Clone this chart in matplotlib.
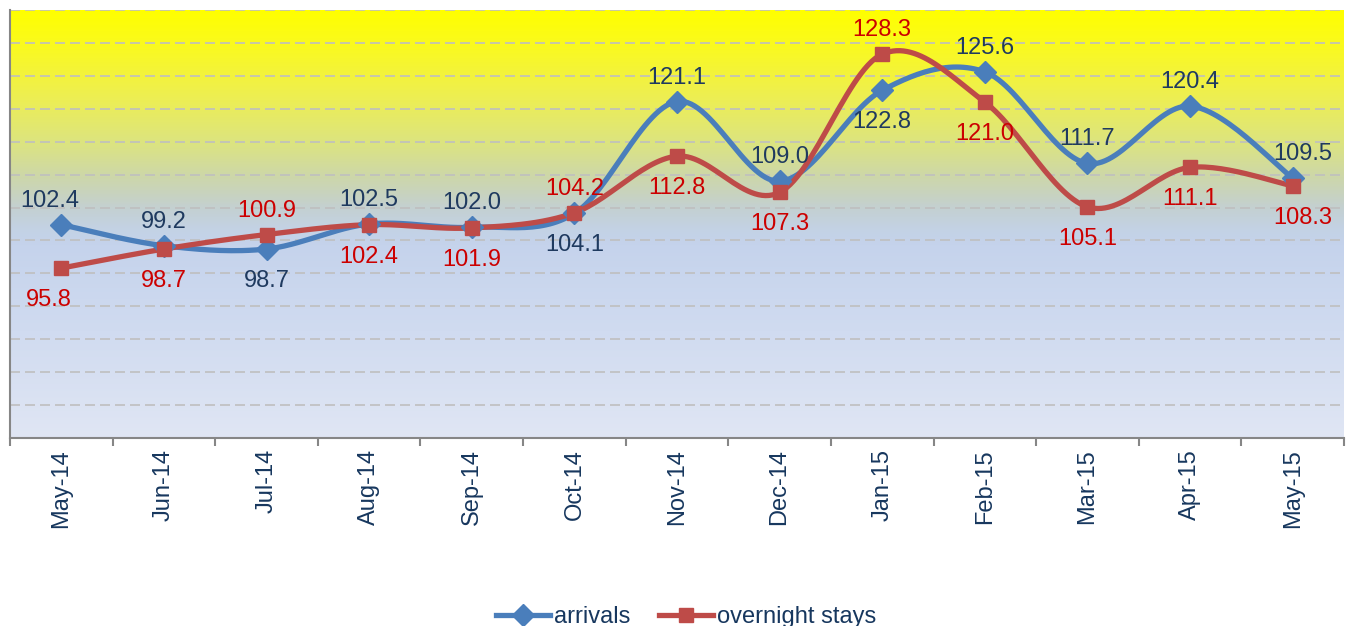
import numpy as np
from matplotlib import pyplot as plt
from matplotlib.colors import LinearSegmentedColormap

months = ['May-14', 'Jun-14', 'Jul-14', 'Aug-14', 'Sep-14', 'Oct-14', 'Nov-14',
          'Dec-14', 'Jan-15', 'Feb-15', 'Mar-15', 'Apr-15', 'May-15']
arrivals = [102.4, 99.2, 98.7, 102.5, 102.0, 104.1, 121.1, 109.0, 122.8, 125.6, 111.7, 120.4, 109.5]
overnight = [95.8, 98.7, 100.9, 102.4, 101.9, 104.2, 112.8, 107.3, 128.3, 121.0, 105.1, 111.1, 108.3]

# label placement: 1 = above the marker, -1 = below
arr_side = [1, 1, -1, 1, 1, -1, 1, 1, -1, 1, 1, 1, 1]
ovn_side = [-1, -1, 1, -1, -1, 1, -1, -1, 1, -1, -1, -1, -1]

plt.rcParams['font.family'] = ['Liberation Sans', 'DejaVu Sans']


def smooth(x, y, n=30):
    # excel-like smoothed line: cubic bezier, control points from neighbours / 6
    p = np.column_stack([x, y]).astype(float)
    ext = np.vstack([p[0], p, p[-1]])
    t = np.linspace(0, 1, n)[:, None]
    out = []
    for i in range(len(p) - 1):
        p0 = ext[i + 1]
        p3 = ext[i + 2]
        c1 = p0 + (ext[i + 2] - ext[i]) / 6
        c2 = p3 - (ext[i + 3] - ext[i + 1]) / 6
        seg = (1 - t) ** 3 * p0 + 3 * (1 - t) ** 2 * t * c1 + 3 * (1 - t) * t ** 2 * c2 + t ** 3 * p3
        out.append(seg if i == 0 else seg[1:])
    out = np.vstack(out)
    return out[:, 0], out[:, 1]


fig = plt.figure(figsize=(13.46, 6.26), dpi=100)
ax = fig.add_axes([10 / 1346, 1 - 438 / 626, 1334 / 1346, 428 / 626])

x = np.arange(len(months))
ax.set_xlim(-0.5, len(months) - 0.5)
ax.set_ylim(70, 135)

stops = [(0.0, (224, 230, 244)), (0.25, (208, 219, 240)), (0.45, (197, 211, 236)),
         (0.49, (195, 210, 228)), (0.54, (196, 208, 208)), (0.61, (205, 215, 170)),
         (0.69, (220, 228, 128)), (0.79, (236, 238, 85)), (0.85, (243, 243, 60)),
         (0.92, (250, 250, 30)), (1.0, (255, 255, 0))]
cmap = LinearSegmentedColormap.from_list('bg', [(s, tuple(c / 255 for c in col)) for s, col in stops])
ax.imshow(np.linspace(0, 1, 256)[::-1, None], aspect='auto', cmap=cmap,
          extent=(-0.5, len(months) - 0.5, 70, 135), zorder=0)

ax.set_yticks(np.arange(70, 136, 5))
ax.set_yticklabels([])
ax.tick_params(axis='y', length=0)
ax.grid(axis='y', color='#bfbfbf', linestyle=(0, (6, 3)), linewidth=1.2, zorder=1)

blue = '#4a7ebb'
red = '#be4b48'
sx, sy = smooth(x, arrivals)
ax.plot(sx, sy, color=blue, lw=3.8, zorder=3, solid_capstyle='round')
ax.plot(x, arrivals, ls='none', marker='D', ms=11, color=blue, zorder=4)
sx, sy = smooth(x, overnight)
ax.plot(sx, sy, color=red, lw=3.8, zorder=3, solid_capstyle='round')
ax.plot(x, overnight, ls='none', marker='s', ms=10, color=red, zorder=5)

last = len(months) - 1
for i in range(len(months)):
    dx = -12 if i == 0 else (10 if i == last else 0)
    dy = 24 if arr_side[i] > 0 else -32
    ax.annotate(f'{arrivals[i]:.1f}', (x[i], arrivals[i]), xytext=(dx, dy), textcoords='offset pixels',
                ha='center', va='center', fontsize=17, color='#1f3a5f', zorder=6)
    dy = 24 if ovn_side[i] > 0 else -32
    ax.annotate(f'{overnight[i]:.1f}', (x[i], overnight[i]), xytext=(dx, dy), textcoords='offset pixels',
                ha='center', va='center', fontsize=17, color='#cc0000', zorder=6)

ax.set_xticks(x)
ax.set_xticklabels(months, rotation=90, fontsize=17, color='#17375e')
ax.set_xticks(np.arange(-0.5, len(months)), minor=True)
ax.tick_params(axis='x', which='major', length=0, pad=8)
ax.tick_params(axis='x', which='minor', length=6, width=1.5, color='#868686', direction='out')

for s in ['top', 'right']:
    ax.spines[s].set_visible(False)
for s in ['left', 'bottom']:
    ax.spines[s].set_color('#868686')
    ax.spines[s].set_linewidth(1.5)

h1, = ax.plot([], [], color=blue, lw=3.8, marker='D', ms=11)
h2, = ax.plot([], [], color=red, lw=3.8, marker='s', ms=10)
fig.legend([h1, h2], ['arrivals', 'overnight stays'], loc='center', bbox_to_anchor=(686 / 1346, 1 - 617 / 626),
           ncol=2, frameon=False, fontsize=17, handlelength=2.3, handletextpad=0.15, columnspacing=1.2,
           labelcolor='#17375e', borderpad=0)

plt.savefig('out.png', dpi=100)
